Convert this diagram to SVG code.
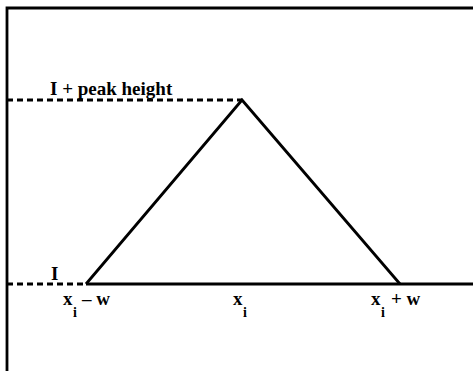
<svg xmlns="http://www.w3.org/2000/svg" width="473" height="371" viewBox="0 0 473 371">
<style>
.ln{stroke:#000;stroke-width:2.8;fill:none}
.ds{stroke:#000;stroke-width:2.8;fill:none;stroke-dasharray:6 4}
.t{font-family:"Liberation Serif",serif;font-weight:bold;font-size:19px;fill:#000}
.s{font-family:"Liberation Serif",serif;font-weight:bold;font-size:14px;fill:#000}
</style>
<rect width="473" height="371" fill="#fff"/>
<g id="frame">
<path class="ln" d="M7,371 V8 H473" stroke="#222"/>
</g>
<g id="connectors">
<path class="ds" d="M7,100 H242"/>
<path class="ds" d="M7,284 H86"/>
<path class="ln" d="M86,284 L242,100 L400,284"/>
<path class="ln" d="M86,284 H473"/>
</g>
<g id="labels">
<text class="t" x="50" y="95">I + peak height</text>
<text class="t" x="51" y="280">I</text>
<text class="t" x="63" y="305">x</text><text class="s" x="73" y="317">i</text><text class="t" x="82" y="305">– w</text>
<text class="t" x="233" y="305">x</text><text class="s" x="243" y="317">i</text>
<text class="t" x="371" y="305">x</text><text class="s" x="381" y="317">i</text><text class="t" x="391" y="305">+ w</text>
</g>
</svg>
